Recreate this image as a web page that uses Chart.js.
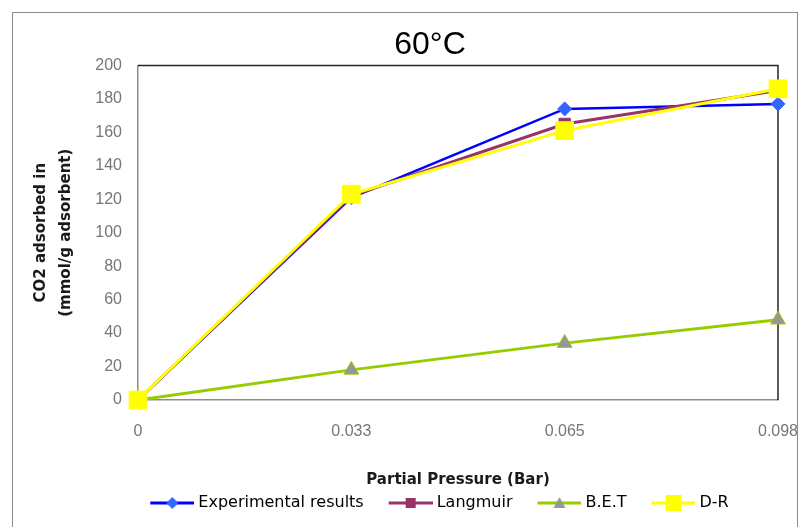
<!DOCTYPE html>
<html>
<head>
<meta charset="utf-8">
<title>60°C</title>
<script src="https://cdn.jsdelivr.net/npm/chart.js@4.4.1/dist/chart.umd.min.js"></script>
<style>
    html, body { margin: 0; padding: 0; background: #fff; overflow: hidden; }
    #wrap { position: relative; width: 801px; height: 527px; overflow: hidden; }
</style>
</head>
<body>
<div id="wrap"><canvas id="myChart" width="860" height="527"></canvas></div>
<script>
    // Data
    var pressures = ['0', '0.033', '0.065', '0.098'];
    var experimental = [0, 121, 174, 177];
    var langmuir = [0, 122, 165, 185];
    var bet = [0, 18, 34, 48];
    var dr = [0, 123, 161, 186];
    var yMin = 0;
    var yMax = 200;
    var yStep = 20;


    // Small line + marker pictures for the legend
    function legendIcon(lineColor, drawMarker) {
        var c = document.createElement('canvas');
        c.width = 67;
        c.height = 20;
        var g = c.getContext('2d');
        g.strokeStyle = lineColor;
        g.lineWidth = 3;
        g.beginPath();
        g.moveTo(23, 10);
        g.lineTo(67, 10);
        g.stroke();
        drawMarker(g, 45, 10);
        return c;
    }
    var legendIcons = [
        legendIcon('#0000ff', function (g, x, y) {
            g.fillStyle = '#3366ff';
            g.beginPath();
            g.moveTo(x, y - 6); g.lineTo(x + 6, y); g.lineTo(x, y + 6); g.lineTo(x - 6, y);
            g.closePath();
            g.fill();
        }),
        legendIcon('#993366', function (g, x, y) {
            g.fillStyle = '#993366';
            g.fillRect(x - 5, y - 5, 10, 10);
        }),
        legendIcon('#99cc00', function (g, x, y) {
            g.fillStyle = '#969696';
            g.beginPath();
            g.moveTo(x, y - 6); g.lineTo(x + 6, y + 5); g.lineTo(x - 6, y + 5);
            g.closePath();
            g.fill();
        }),
        legendIcon('#ffff00', function (g, x, y) {
            g.fillStyle = '#ffff00';
            g.fillRect(x - 8, y - 8, 16, 16);
        })
    ];


    // Outer frame and the dark top/right edges of the plot box
    var frames = {
        id: 'frames',
        beforeDatasetsDraw: function (chart) {
            var ctx = chart.ctx;
            var a = chart.chartArea;
            ctx.save();
            ctx.strokeStyle = '#262626';
            ctx.lineWidth = 1.5;
            ctx.beginPath();
            ctx.moveTo(a.left, a.top);
            ctx.lineTo(a.right, a.top);
            ctx.lineTo(a.right, a.bottom);
            ctx.stroke();
            ctx.restore();
        },
        afterDraw: function (chart) {
            var ctx = chart.ctx;
            ctx.save();
            ctx.strokeStyle = '#8c8c8c';
            ctx.lineWidth = 1;
            ctx.strokeRect(12.5, 12.5, 785, 530);
            ctx.restore();
        }
    };


    const ctx = document.getElementById('myChart');
    new Chart(ctx, {
        type: 'line',
        data: {
            labels: pressures,
            datasets: [{
                label: 'Experimental results',
                data: experimental,
                borderColor: '#0000ff',
                borderWidth: 2.5,
                pointStyle: 'rectRot',
                pointRadius: 7,
                pointBackgroundColor: '#3366ff',
                pointBorderColor: '#3366ff',
                order: 3,
            }, {
                label: 'Langmuir',
                data: langmuir,
                borderColor: '#993366',
                borderWidth: 3,
                pointStyle: 'rect',
                pointRadius: 8,
                pointBackgroundColor: '#993366',
                pointBorderColor: '#993366',
                order: 2,
            }, {
                label: 'B.E.T',
                data: bet,
                borderColor: '#99cc00',
                borderWidth: 3,
                pointStyle: 'triangle',
                pointRadius: 8.5,
                pointBackgroundColor: '#969696',
                pointBorderColor: '#99cc00',
                order: 1,
            }, {
                label: 'D-R',
                data: dr,
                borderColor: '#ffff00',
                borderWidth: 3,
                pointStyle: 'rect',
                pointRadius: 12.5,
                pointBackgroundColor: '#ffff00',
                pointBorderColor: '#ffff00',
                order: 0,
            }]
        },
        options: {
            responsive: false,
            animation: false,
            devicePixelRatio: 1,
            datasets: {
                line: { clip: false, tension: 0, fill: false, pointBorderWidth: 1 }
            },
            layout: {
                padding: { left: 25, right: 25, top: 16, bottom: 6 }
            },
            plugins: {
                tooltip: { enabled: false },
                title: {
                    display: true,
                    text: '60°C',
                    color: '#000',
                    font: { family: 'Liberation Sans', size: 32, weight: 'normal' },
                    padding: { top: 10, bottom: 1 }
                },
                legend: {
                    position: 'bottom',
                    labels: {
                        usePointStyle: true,
                        pointStyleWidth: 59,
                        padding: 6,
                        color: '#333',
                        font: { family: 'DejaVu Sans', size: 16 },
                        generateLabels: function (chart) {
                            return chart.data.datasets.map(function (ds, i) {
                                return {
                                    text: ds.label,
                                    pointStyle: legendIcons[i],
                                    fillStyle: 'transparent',
                                    strokeStyle: 'transparent',
                                    lineWidth: 0,
                                    hidden: false,
                                    datasetIndex: i
                                };
                            });
                        }
                    }
                }
            },
            scales: {
                x: {
                    offset: false,
                    grid: { drawOnChartArea: false, drawTicks: false },
                    border: { color: '#8c8c8c', width: 1.5 },
                    ticks: {
                        color: '#767676',
                        font: { family: 'Liberation Sans', size: 16 },
                        padding: 22,
                        maxRotation: 0,
                        autoSkip: false
                    },
                    title: {
                        display: true,
                        text: 'Partial Pressure (Bar)',
                        color: '#1a1a1a',
                        font: { family: 'DejaVu Sans', size: 15, weight: 'bold' },
                        padding: { top: 0, bottom: 0 }
                    },
                    afterFit: function (scale) {
                        scale.height = 89;
                        scale.paddingLeft = 0;
                        scale.paddingRight = 82;
                    }
                },
                y: {
                    min: yMin,
                    max: yMax,
                    grid: { drawOnChartArea: false, drawTicks: false },
                    border: { color: '#8c8c8c', width: 1.5 },
                    ticks: {
                        stepSize: yStep,
                        color: '#767676',
                        font: { family: 'Liberation Sans', size: 16 },
                        padding: 16
                    },
                    title: {
                        display: true,
                        text: ['CO2 adsorbed in', '(mmol/g adsorbent)'],
                        color: '#1a1a1a',
                        font: { family: 'DejaVu Sans', size: 15, weight: 'bold', lineHeight: 1.65 },
                        padding: { top: 4, bottom: 0 }
                    },
                    afterFit: function (scale) {
                        scale.width = 113;
                    }
                }
            }
        },
        plugins: [frames]
    });
</script>
</body>
</html>
